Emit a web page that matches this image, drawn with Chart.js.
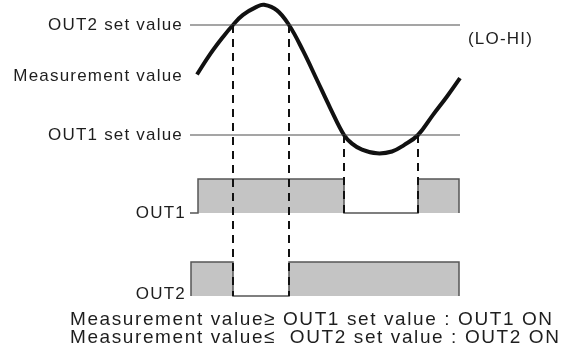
<!DOCTYPE html>
<html><head><meta charset="utf-8">
<script src="https://cdn.jsdelivr.net/npm/chart.js@4/dist/chart.umd.min.js"></script>
<style>html,body{margin:0;padding:0;background:#fff;overflow:hidden}</style>
</head><body>
<canvas id="c" width="574" height="363"></canvas>
<script>
// ---- data ----
const LO = 20, HI = 80;                      // OUT1 / OUT2 set values
const setT = [0, 27];                        // extent of set-value lines (time)
const curveT = [0.7, 2.0, 3.3, 4.3, 5.3, 6.7, 7.4, 8.7, 9.9, 11.3, 12.7, 14.0, 15.4, 16.2, 17.2, 18.7, 20.2, 21.4, 22.8, 24.3, 25.7, 27.0];
const curveV = [53, 64, 73.5, 80, 85.5, 90, 91, 88, 80, 66, 50, 35, 20, 15.3, 12, 10, 11, 14.5, 20, 31, 41, 51];
const out1T = [0, 0.8, 15.4, 22.8, 26.9];
const out1S = [0, 1, 0, 1, 0];
const out2T = [0.1, 0.1, 4.3, 9.9, 26.9];
const out2S = [0, 1, 0, 1, 0];
const guideT = [4.3, 9.9, 15.4, 22.8];       // switching instants
const guideFrom = ['HI', 'HI', 'LO', 'LO'];
const guideTo = ['out2', 'out2', 'out1', 'out1'];
const leftLabels = ['OUT2 set value', 'Measurement value', 'OUT1 set value'];
const leftLabelV = [HI, 52, LO];
const rangeLabel = '(LO-HI)';
const rowLabels = ['OUT1', 'OUT2'];
const notes = ['Measurement value\u2265 OUT1 set value : OUT1 ON', 'Measurement value\u2264  OUT2 set value : OUT2 ON'];

const pts = (xs, ys) => xs.map((x, i) => ({x, y: ys[i]}));

const FONT = '"Liberation Sans", Arial, sans-serif';
const TXT = '#1e1e1e';

const annot = {
  id: 'annot',
  afterDatasetsDraw(chart) {
    const {ctx} = chart;
    const sx = chart.scales.x, sy = chart.scales.y, s1 = chart.scales.y1, s2 = chart.scales.y2;
    ctx.save();
    // dashed switching guides
    ctx.strokeStyle = '#111';
    ctx.lineWidth = 2;
    ctx.setLineDash([8, 6]);
    guideT.forEach((t, i) => {
      const x = Math.round(sx.getPixelForValue(t));
      const y0 = sy.getPixelForValue(guideFrom[i] === 'HI' ? HI : LO);
      const y1 = (guideTo[i] === 'out2' ? s2 : s1).getPixelForValue(0);
      ctx.beginPath(); ctx.moveTo(x, y0); ctx.lineTo(x, y1); ctx.stroke();
    });
    ctx.setLineDash([]);
    // labels
    ctx.fillStyle = TXT;
    ctx.font = '17px ' + FONT;
    ctx.letterSpacing = '1.2px';
    ctx.textAlign = 'right';
    ctx.textBaseline = 'middle';
    const lx = sx.getPixelForValue(-0.7);
    leftLabels.forEach((s, i) => ctx.fillText(s, lx, sy.getPixelForValue(leftLabelV[i])));
    ctx.fillText(rowLabels[0], sx.getPixelForValue(-0.4), s1.getPixelForValue(0));
    ctx.fillText(rowLabels[1], sx.getPixelForValue(-0.4), s2.getPixelForValue(0.05));
    ctx.textAlign = 'left';
    ctx.fillText(rangeLabel, sx.getPixelForValue(27.8), sy.getPixelForValue(72));
    ctx.font = '19px ' + FONT;
    ctx.letterSpacing = '1.6px';
    ctx.textBaseline = 'alphabetic';
    ctx.fillText(notes[0], sx.getPixelForValue(-12), s2.getPixelForValue(-0.853));
    ctx.fillText(notes[1], sx.getPixelForValue(-12), s2.getPixelForValue(-1.382));
    ctx.restore();
  }
};

new Chart(document.getElementById('c'), {
  type: 'line',
  data: {
    datasets: [
      { data: pts(out1T, out1S), yAxisID: 'y1', stepped: 'before', borderColor: '#555', borderWidth: 1.5,
        backgroundColor: '#c4c4c4', fill: {value: 0}, pointRadius: 0 },
      { data: pts(out2T, out2S), yAxisID: 'y2', stepped: 'before', borderColor: '#555', borderWidth: 1.5,
        backgroundColor: '#c4c4c4', fill: {value: 0}, pointRadius: 0 },
      { data: pts(setT, [HI, HI]), yAxisID: 'y', borderColor: '#4d4d4d', borderWidth: 1.2, pointRadius: 0 },
      { data: pts(setT, [LO, LO]), yAxisID: 'y', borderColor: '#4d4d4d', borderWidth: 1.2, pointRadius: 0 },
      { data: pts(curveT, curveV), yAxisID: 'y', borderColor: '#111', borderWidth: 4, pointRadius: 0,
        tension: 0.4, borderCapStyle: 'butt' }
    ]
  },
  options: {
    responsive: false, animation: false, devicePixelRatio: 1,
    layout: { padding: 0 },
    plugins: { legend: { display: false }, tooltip: { enabled: false } },
    events: [],
    scales: {
      x: { type: 'linear', min: -19, max: 38.4, display: false },
      y: { type: 'linear', min: -104.36, max: 93.64, display: false },
      y1: { type: 'linear', min: -4.412, max: 6.265, display: false },
      y2: { type: 'linear', min: -1.971, max: 8.706, display: false }
    }
  },
  plugins: [annot]
});
</script>
</body></html>
